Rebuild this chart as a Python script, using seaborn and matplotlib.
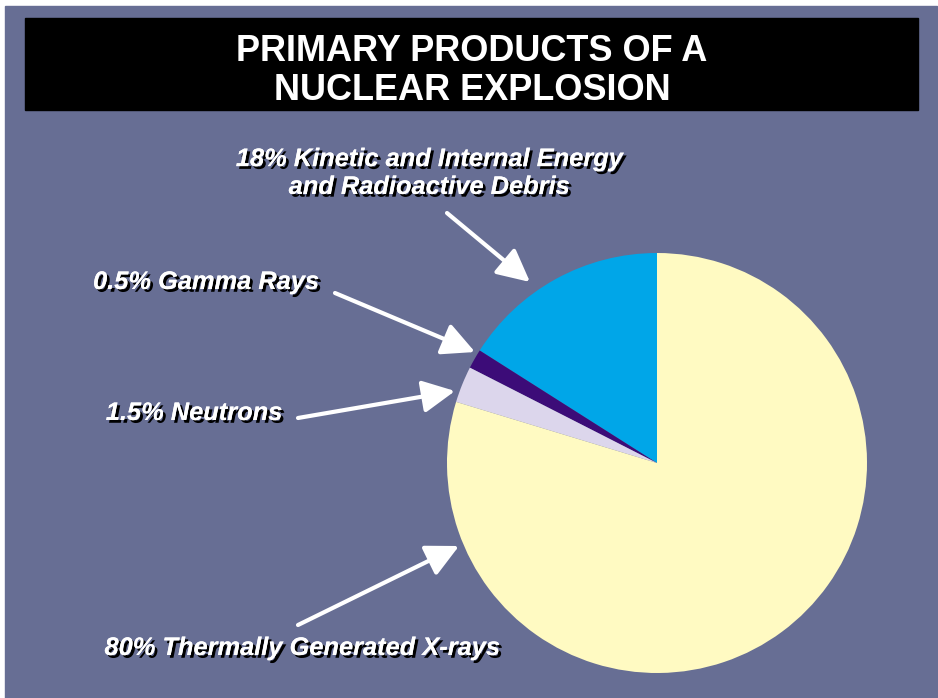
import matplotlib
matplotlib.use("Agg")
import matplotlib.pyplot as plt
import matplotlib.patheffects as pe
from matplotlib.patches import Rectangle
import seaborn as sns

# slice shares (percent), counter-clockwise from 12 o'clock
products = ["Kinetic and Internal Energy and Radioactive Debris", "Gamma Rays",
            "Neutrons", "Thermally Generated X-rays"]
shares = [16.0, 1.5, 2.8, 79.7]
slice_colors = ["#00A6E8", "#3C0C78", "#DCD6EC", "#FFFAC2"]

label_texts = ["18% Kinetic and Internal Energy\nand Radioactive Debris",
               "0.5% Gamma Rays", "1.5% Neutrons", "80% Thermally Generated X-rays"]

sns.set_style("white")
plt.rcParams["font.family"] = ["Liberation Sans", "DejaVu Sans"]

W, H = 938, 698
fig = plt.figure(figsize=(W / 100, H / 100), dpi=100)
fig.patch.set_facecolor("white")

# full-figure overlay in pixel coordinates (y down)
bg = fig.add_axes([0, 0, 1, 1])
bg.set_xlim(0, W)
bg.set_ylim(H, 0)
bg.axis("off")
bg.add_patch(Rectangle((5, 6), W - 6, H - 6, color="#676E94", zorder=0))
bg.add_patch(Rectangle((25, 18), 893, 92, color="black", zorder=1))
bg.text(472, 71, "PRIMARY PRODUCTS OF A\nNUCLEAR EXPLOSION", color="white",
        fontsize=26, fontweight="bold", ha="center", va="center",
        linespacing=1.12, zorder=2)

# pie axes
cx, cy, r = 657, 463, 210
pie_ax = fig.add_axes([(cx - r) / W, (H - cy - r) / H, 2 * r / W, 2 * r / H])
pie_ax.pie(shares, colors=slice_colors, startangle=90, counterclock=True,
           wedgeprops=dict(linewidth=0))
pie_ax.set_xlim(-1, 1)
pie_ax.set_ylim(-1, 1)
pie_ax.axis("off")

shadow = [pe.withSimplePatchShadow(offset=(2, -2), shadow_rgbFace="black", alpha=1.0),
          pe.Normal()]
label_style = dict(color="white", fontsize=18.3, fontweight="bold", style="italic",
                   ha="center", va="center", linespacing=1.2, zorder=5)

overlay = fig.add_axes([0, 0, 1, 1], facecolor="none")
overlay.set_xlim(0, W)
overlay.set_ylim(H, 0)
overlay.axis("off")

text_pos = [(429, 173), (206, 282), (194, 413), (302, 648)]
arrow_tail = [(447, 213), (335, 293), (298, 418), (298, 625)]
arrow_tip = [(530, 282), (475, 352), (455, 391), (459, 546)]

for txt, tp, tail, tip in zip(label_texts, text_pos, arrow_tail, arrow_tip):
    t = overlay.text(tp[0], tp[1], txt, **label_style)
    t.set_path_effects(shadow)
    overlay.annotate("", xy=tip, xytext=tail,
                     arrowprops=dict(arrowstyle="-|>,head_length=0.9,head_width=0.45",
                                     color="white", lw=3, mutation_scale=22,
                                     shrinkA=0, shrinkB=0))

fig.savefig("out.png", dpi=100)
